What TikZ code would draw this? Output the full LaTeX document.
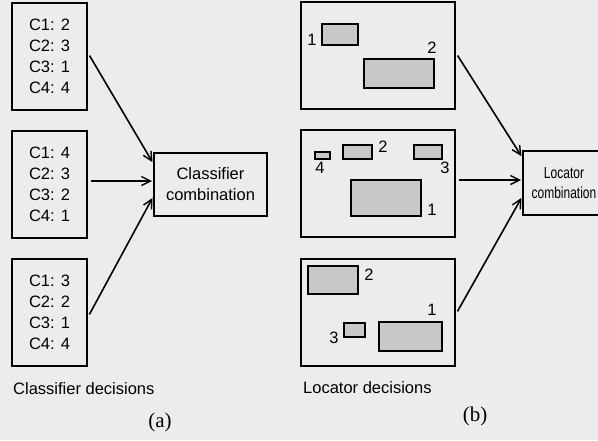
\documentclass[tikz,border=0pt]{standalone}
\usepackage{fontspec}
\usepackage{graphicx}
\setmainfont{Liberation Serif}
\setsansfont{Liberation Sans}
\usetikzlibrary{arrows.meta}

\definecolor{paper}{RGB}{236,236,234}
\definecolor{stipple}{RGB}{200,200,200}

\newcommand{\narrowtext}[1]{\scalebox{0.75}[1]{#1}}

\tikzset{
	decbox/.style={draw,line width=2pt,minimum width=75pt,minimum height=107pt,
		font=\sffamily\fontsize{16.5}{21}\selectfont,align=left,inner sep=0pt},
	locbox/.style={draw,line width=2pt,minimum width=154pt,minimum height=107pt},
	combbox/.style={draw,line width=2pt,align=center,inner sep=0pt},
	blob/.style={draw,line width=1.6pt,fill=stipple},
	num/.style={font=\sffamily\fontsize{16.5}{16.5}\selectfont,inner sep=0pt},
	link/.style={line width=1.6pt,-{Straight Barb[length=9pt,width=9pt,line width=1.4pt]},shorten <=3pt,shorten >=1pt}
}

\begin{document}
\begin{tikzpicture}[x=1pt,y=-1pt]
	\useasboundingbox (0,0) rectangle (598,440);
	\clip (0,0) rectangle (598,440);
	\fill[paper] (0,0) rectangle (598,440);

	% (a) classifier decisions
	\node[decbox] (c1) at (49.5,56.5) {C1: 2\\C2: 3\\C3: 1\\C4: 4};
	\node[decbox] (c2) at (49.5,184.5) {C1: 4\\C2: 3\\C3: 2\\C4: 1};
	\node[decbox] (c3) at (49.5,312.5) {C1: 3\\C2: 2\\C3: 1\\C4: 4};
	\node[combbox,minimum width=113pt,minimum height=63pt,
		font=\sffamily\fontsize{16.5}{21}\selectfont] (ccomb) at (210.5,184.5) {Classifier\\combination};

	\draw[link] ([yshift=3.5pt]c1.east) -- ([yshift=21.5pt]ccomb.west);
	\draw[link] ([yshift=3.5pt]c2.east) -- ([yshift=3.5pt]ccomb.west);
	\draw[link] ([yshift=-4.5pt]c3.east) -- ([yshift=-12.5pt]ccomb.west);

	\node[font=\sffamily\fontsize{16.5}{16.5}\selectfont,anchor=west,inner sep=0pt] (cdec) at (13,389) {Classifier decisions};
	\node[font=\fontsize{21}{21}\selectfont] (capa) at (160,422) {(a)};

	% (b) locator decisions
	\node[locbox] (l1) at (378,55.5) {};
	\node[locbox] (l2) at (378,183.5) {};
	\node[locbox] (l3) at (378,312) {};
	\node[combbox,minimum width=82pt,minimum height=64pt,
		font=\sffamily\fontsize{16}{20}\selectfont] (lcomb) at (564,183) {\narrowtext{Locator}\\\narrowtext{combination}};

	\draw[blob] (322,24) rectangle (358,45);
	\draw[blob] (364,59) rectangle (434,88);
	\node[num] (l1a) at (312,40) {1};
	\node[num] (l1b) at (432,48) {2};

	\draw[blob] (315,152) rectangle (330,159);
	\draw[blob] (343,145) rectangle (372,159);
	\draw[blob] (414,145) rectangle (442,159);
	\draw[blob] (351,180) rectangle (421,216);
	\node[num] (l2d) at (320,168) {4};
	\node[num] (l2b) at (383,147) {2};
	\node[num] (l2c) at (445,168) {3};
	\node[num] (l2a) at (432,210) {1};

	\draw[blob] (308,266) rectangle (358,294);
	\draw[blob] (344,323) rectangle (365,337);
	\draw[blob] (379,322) rectangle (442,351);
	\node[num] (l3b) at (369,275) {2};
	\node[num] (l3c) at (334,338) {3};
	\node[num] (l3a) at (432,310) {1};

	\draw[link] ([yshift=2.5pt]l1.east) -- ([yshift=26pt]lcomb.west);
	\draw[link] ([yshift=3.5pt]l2.east) -- ([yshift=3pt]lcomb.west);
	\draw[link] ([yshift=-2pt]l3.east) -- ([yshift=-14pt]lcomb.west);

	\node[font=\sffamily\fontsize{16.5}{16.5}\selectfont,anchor=west,inner sep=0pt] (ldec) at (303,388) {Locator decisions};
	\node[font=\fontsize{21}{21}\selectfont] (capb) at (475,416) {(b)};
\end{tikzpicture}
\end{document}
